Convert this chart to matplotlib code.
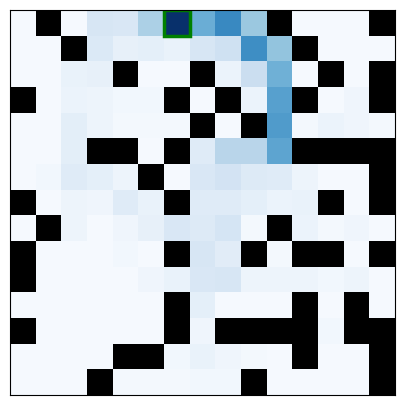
import numpy as np
import matplotlib
matplotlib.use("Agg")
import matplotlib.pyplot as plt
from matplotlib.patches import Rectangle

# '#' = wall cell
walls = [
    ".#........#...#",
    "..#........#...",
    "....#..#....#.#",
    "#.....#.#..#..#",
    ".......#.#.....",
    "...##.#....####",
    ".....#........#",
    "#.....#.....#.#",
    ".#........#....",
    "#.....#..#.##.#",
    "#..............",
    "......#....#.#.",
    "#.....#.####.##",
    "....##.....#..#",
    "...#.....#....#",
]

# state values (wall entries are ignored)
values = [
    [0.01, 0, 0.01, 0.16, 0.15, 0.33, 1.00, 0.50, 0.66, 0.38, 0, 0.01, 0.01, 0.01, 0],
    [0.01, 0.01, 0, 0.14, 0.08, 0.09, 0.07, 0.16, 0.20, 0.64, 0.40, 0, 0.01, 0.01, 0.01],
    [0.01, 0.01, 0.07, 0.08, 0, 0.01, 0.01, 0, 0.06, 0.22, 0.49, 0.01, 0, 0.01, 0],
    [0, 0.01, 0.06, 0.05, 0.03, 0.03, 0, 0.01, 0, 0.06, 0.56, 0, 0.01, 0.04, 0],
    [0.01, 0.01, 0.10, 0.05, 0.02, 0.02, 0.02, 0, 0.01, 0, 0.58, 0.02, 0.06, 0.04, 0.02],
    [0.01, 0.01, 0.10, 0, 0, 0.01, 0, 0.12, 0.29, 0.29, 0.54, 0, 0, 0, 0],
    [0.01, 0.03, 0.12, 0.09, 0.05, 0, 0.01, 0.15, 0.18, 0.13, 0.12, 0.05, 0.01, 0.01, 0],
    [0, 0.01, 0.05, 0.04, 0.12, 0.07, 0, 0.12, 0.12, 0.09, 0.06, 0.07, 0, 0.01, 0],
    [0.01, 0, 0.05, 0.01, 0.04, 0.08, 0.15, 0.13, 0.17, 0.02, 0, 0.06, 0.02, 0.04, 0.01],
    [0, 0.01, 0.01, 0.01, 0.03, 0.01, 0, 0.16, 0.11, 0, 0.02, 0, 0, 0.01, 0],
    [0, 0.01, 0.01, 0.01, 0.01, 0.04, 0.07, 0.15, 0.16, 0.05, 0.05, 0.05, 0.03, 0.05, 0.01],
    [0.01, 0.01, 0.01, 0.01, 0.01, 0.01, 0, 0.09, 0.01, 0.01, 0.01, 0, 0.01, 0, 0.01],
    [0, 0.01, 0.01, 0.01, 0.01, 0.01, 0, 0.04, 0, 0, 0, 0, 0.03, 0, 0],
    [0.01, 0.01, 0.01, 0.01, 0, 0, 0.03, 0.07, 0.04, 0.02, 0.01, 0, 0.01, 0.01, 0],
    [0.01, 0.01, 0.01, 0, 0.02, 0.02, 0.02, 0.03, 0.03, 0, 0.01, 0.01, 0.01, 0.01, 0],
]

goal = (0, 6)  # (row, col)

wall_mask = np.array([[c == "#" for c in row] for row in walls])
grid = np.ma.masked_array(np.array(values, dtype=float), mask=wall_mask)

cmap = plt.get_cmap("Blues").copy()
cmap.set_bad("black")

fig = plt.figure(figsize=(4.05, 4.05), dpi=100)
ax = fig.add_axes([0.025, 0.025, 0.95, 0.95])
ax.imshow(grid, cmap=cmap, vmin=0, vmax=1, interpolation="nearest")
ax.add_patch(Rectangle((goal[1] - 0.5, goal[0] - 0.5), 1, 1,
                       fill=False, edgecolor="green", linewidth=2.5))
ax.set_xticks([])
ax.set_yticks([])

fig.savefig("out.png", dpi=100)
